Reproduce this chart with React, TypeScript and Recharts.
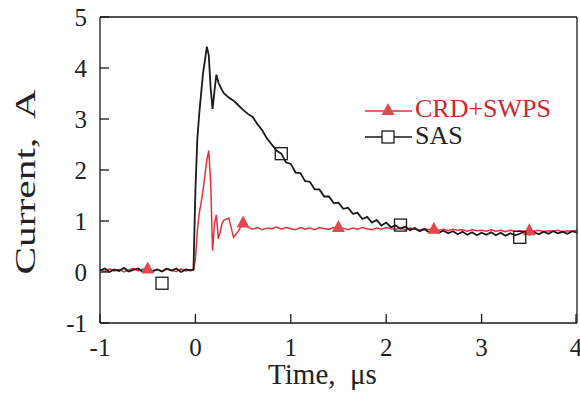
import { ComposedChart, Line, Scatter, XAxis, YAxis } from "recharts";

// time axis in microseconds (finer around the switching edge)
const time = [
  -1, -0.95, -0.9, -0.85, -0.8, -0.75, -0.7, -0.65, -0.6, -0.55,
  -0.5, -0.45, -0.4, -0.35, -0.3, -0.25, -0.2, -0.15, -0.1, -0.05,
  -0.02, 0, 0.02, 0.04, 0.06, 0.08, 0.1, 0.12, 0.14, 0.16,
  0.18, 0.2, 0.22, 0.24, 0.26, 0.28, 0.3, 0.35, 0.4, 0.45, 0.5,
  0.55, 0.6, 0.65, 0.7, 0.75, 0.8, 0.85, 0.9, 0.95, 1.0,
  1.05, 1.1, 1.15, 1.2, 1.25, 1.3, 1.35, 1.4, 1.45, 1.5,
  1.55, 1.6, 1.65, 1.7, 1.75, 1.8, 1.85, 1.9, 1.95, 2.0,
  2.05, 2.1, 2.15, 2.2, 2.25, 2.3, 2.35, 2.4, 2.45, 2.5,
  2.55, 2.6, 2.65, 2.7, 2.75, 2.8, 2.85, 2.9, 2.95, 3.0,
  3.05, 3.1, 3.15, 3.2, 3.25, 3.3, 3.35, 3.4, 3.45, 3.5,
  3.55, 3.6, 3.65, 3.7, 3.75, 3.8, 3.85, 3.9, 3.95, 4.0,
];

// SAS current, A
const sasCurrent = [
  0.03, 0.07, 0.0, 0.05, 0.02, 0.08, 0.01, 0.04, 0.07, 0.0,
  0.06, 0.02, 0.05, 0.01, 0.06, 0.03, 0.07, 0.0, 0.05, 0.03,
  0.05, 1.6, 2.6, 3.1, 3.5, 3.9, 4.15, 4.42, 4.25, 3.6,
  3.2, 3.55, 3.87, 3.72, 3.64, 3.56, 3.5, 3.42, 3.36, 3.27, 3.18,
  3.1, 3.04, 2.9, 2.78, 2.62, 2.5, 2.38, 2.32, 2.15, 2.12,
  1.95, 1.94, 1.78, 1.77, 1.62, 1.62, 1.48, 1.48, 1.35, 1.36,
  1.24, 1.26, 1.14, 1.16, 1.04, 1.08, 0.97, 1.02, 0.91, 0.97,
  0.88, 0.91, 0.85, 0.89, 0.82, 0.86, 0.8, 0.84, 0.78, 0.83,
  0.77, 0.81, 0.76, 0.8, 0.74, 0.79, 0.73, 0.78, 0.72, 0.77,
  0.73, 0.78, 0.72, 0.77, 0.71, 0.76, 0.72, 0.75, 0.79, 0.73,
  0.78, 0.74, 0.79, 0.75, 0.8, 0.76, 0.79, 0.75, 0.8, 0.77,
];

// CRD+SWPS current, A
const crdCurrent = [
  0.05, 0.01, 0.06, 0.02, 0.05, 0.0, 0.04, 0.07, 0.02, 0.06,
  0.03, 0.0, 0.05, 0.02, 0.07, 0.03, 0.01, 0.06, 0.02, 0.04,
  0.03, 0.25, 0.8, 1.15, 1.35, 1.6, 1.9, 2.2, 2.38, 1.75,
  0.42, 0.95, 1.12, 0.65, 0.78, 0.96, 1.02, 1.06, 0.68, 0.8, 0.97,
  0.88, 0.84, 0.87, 0.83, 0.86, 0.85, 0.88, 0.84, 0.87, 0.85,
  0.83, 0.87, 0.84, 0.86, 0.83, 0.87, 0.85, 0.84, 0.87, 0.85,
  0.86, 0.83, 0.86, 0.84, 0.87, 0.85, 0.83, 0.86, 0.84, 0.87,
  0.85, 0.84, 0.86, 0.83, 0.86, 0.84, 0.82, 0.85, 0.83, 0.85,
  0.82, 0.84, 0.81, 0.84, 0.82, 0.83, 0.8, 0.83, 0.81, 0.82,
  0.8, 0.83, 0.8, 0.82, 0.79, 0.82, 0.8, 0.81, 0.79, 0.82,
  0.8, 0.82, 0.79, 0.81, 0.8, 0.82, 0.79, 0.81, 0.8, 0.82,
];

// marker positions
const crdMarkT = [-0.5, 0.5, 1.5, 2.5, 3.5];
const crdMarkI = [0.07, 0.97, 0.88, 0.85, 0.82];
const sasMarkT = [-0.35, 0.9, 2.15, 3.4];
const sasMarkI = [-0.22, 2.32, 0.92, 0.68];

const xTicks = [-1, 0, 1, 2, 3, 4];
const yTicks = [-1, 0, 1, 2, 3, 4, 5];

const RED = "#e0323c";
const INK = "#1a1a1a";
const SERIF = '"Liberation Serif", "Times New Roman", serif';
const serifStyle = { fontFamily: SERIF, whiteSpace: "pre" as const };

const traceData = time.map((t, k) => ({ t, sas: sasCurrent[k], crd: crdCurrent[k] }));
const crdMarks = crdMarkT.map((t, k) => ({ t, i: crdMarkI[k] }));
const sasMarks = sasMarkT.map((t, k) => ({ t, i: sasMarkI[k] }));

const Triangle = (p: any) => (
  <polygon
    points={`${p.cx},${p.cy - 7} ${p.cx - 6.5},${p.cy + 5} ${p.cx + 6.5},${p.cy + 5}`}
    fill="#e04a4e"
  />
);

const Square = (p: any) => (
  <rect x={p.cx - 6} y={p.cy - 6} width={12} height={12} fill="none" stroke={INK} strokeWidth={1.3} />
);

// labels outside, tick marks pointing into the plot
function YTick(props: any) {
  const { x, y, payload } = props;
  return (
    <g>
      <line x1={x + 13} x2={x + 22} y1={y} y2={y} stroke={INK} strokeWidth={1.3} />
      <text x={x} y={y} dy="0.35em" textAnchor="end" fontSize={25} style={serifStyle} fill="#222">
        {String(payload.value)}
      </text>
    </g>
  );
}

function XTick(props: any) {
  const { x, y, payload } = props;
  return (
    <g>
      <line x1={x} x2={x} y1={y - 15} y2={y - 24} stroke={INK} strokeWidth={1.3} />
      <text x={x} y={y} dy="0.72em" textAnchor="middle" fontSize={25} style={serifStyle} fill="#222">
        {String(payload.value)}
      </text>
    </g>
  );
}

export default function App() {
  return (
    <div
      style={{
        position: "absolute",
        left: 0,
        top: 0,
        width: 580,
        height: 394,
        background: "#fff",
        fontFamily: SERIF,
      }}
    >
      <ComposedChart
        width={580}
        height={394}
        data={traceData}
        margin={{ top: 17, right: 3, bottom: 41, left: 60 }}
      >
        <XAxis
          dataKey="t"
          type="number"
          domain={[-1, 4]}
          ticks={xTicks}
          tickSize={0}
          tickMargin={15}
          height={30}
          stroke={INK}
          strokeWidth={1.3}
          tick={<XTick />}
          label={{
            content: (p: any) => (
              <text
                x={p.viewBox.x + p.viewBox.width / 2 - 16}
                y={p.viewBox.y + 61}
                textAnchor="middle"
                fontSize={29}
                fill="#222"
                style={serifStyle}
              >
                {"Time,  μs"}
              </text>
            ),
          }}
        />
        <YAxis
          type="number"
          domain={[-1, 5]}
          ticks={yTicks}
          tickSize={0}
          tickMargin={13}
          width={40}
          stroke={INK}
          strokeWidth={1.3}
          tick={<YTick />}
          label={{
            content: (p: any) => {
              const cx = p.viewBox.x - 25;
              const cy = p.viewBox.y + p.viewBox.height / 2 + 12;
              return (
                <text
                  x={0}
                  y={0}
                  transform={`translate(${cx} ${cy}) rotate(-90) scale(1.38 1)`}
                  textAnchor="middle"
                  fontSize={30}
                  fill="#222"
                  style={serifStyle}
                >
                  {"Current,  A"}
                </text>
              );
            },
          }}
        />
        <XAxis
          xAxisId="top"
          orientation="top"
          type="number"
          domain={[-1, 4]}
          ticks={xTicks}
          mirror
          tickSize={9}
          tick={false}
          height={1}
          stroke={INK}
          strokeWidth={1.3}
        />
        <YAxis
          yAxisId="right"
          orientation="right"
          type="number"
          domain={[-1, 5]}
          ticks={yTicks}
          mirror
          tickSize={9}
          tick={false}
          width={1}
          stroke={INK}
          strokeWidth={1.3}
        />
        <Line
          dataKey="crd"
          type="linear"
          stroke={RED}
          strokeWidth={1.5}
          dot={false}
          isAnimationActive={false}
        />
        <Line
          dataKey="sas"
          type="linear"
          stroke={INK}
          strokeWidth={1.8}
          dot={false}
          isAnimationActive={false}
        />
        <Scatter data={crdMarks} dataKey="i" shape={Triangle} isAnimationActive={false} />
        <Scatter data={sasMarks} dataKey="i" shape={Square} isAnimationActive={false} />
      </ComposedChart>

      {/* legend */}
      <svg
        width={200}
        height={60}
        style={{ position: "absolute", left: 360, top: 94 }}
        viewBox="360 94 200 60"
      >
        <line x1={365} x2={412} y1={111} y2={111} stroke={RED} strokeWidth={1.4} />
        <polygon points="388,103 381.5,115 394.5,115" fill="#e04a4e" />
        <text x={415} y={117} fontSize={26} style={serifStyle} fill="#cc2a30">
          CRD+SWPS
        </text>
        <line x1={365} x2={412} y1={137} y2={137} stroke={INK} strokeWidth={1.4} />
        <rect x={382} y={131} width={12} height={12} fill="#fff" stroke={INK} strokeWidth={1.3} />
        <text x={415} y={144} fontSize={26} style={serifStyle} fill="#222">
          SAS
        </text>
      </svg>
    </div>
  );
}
